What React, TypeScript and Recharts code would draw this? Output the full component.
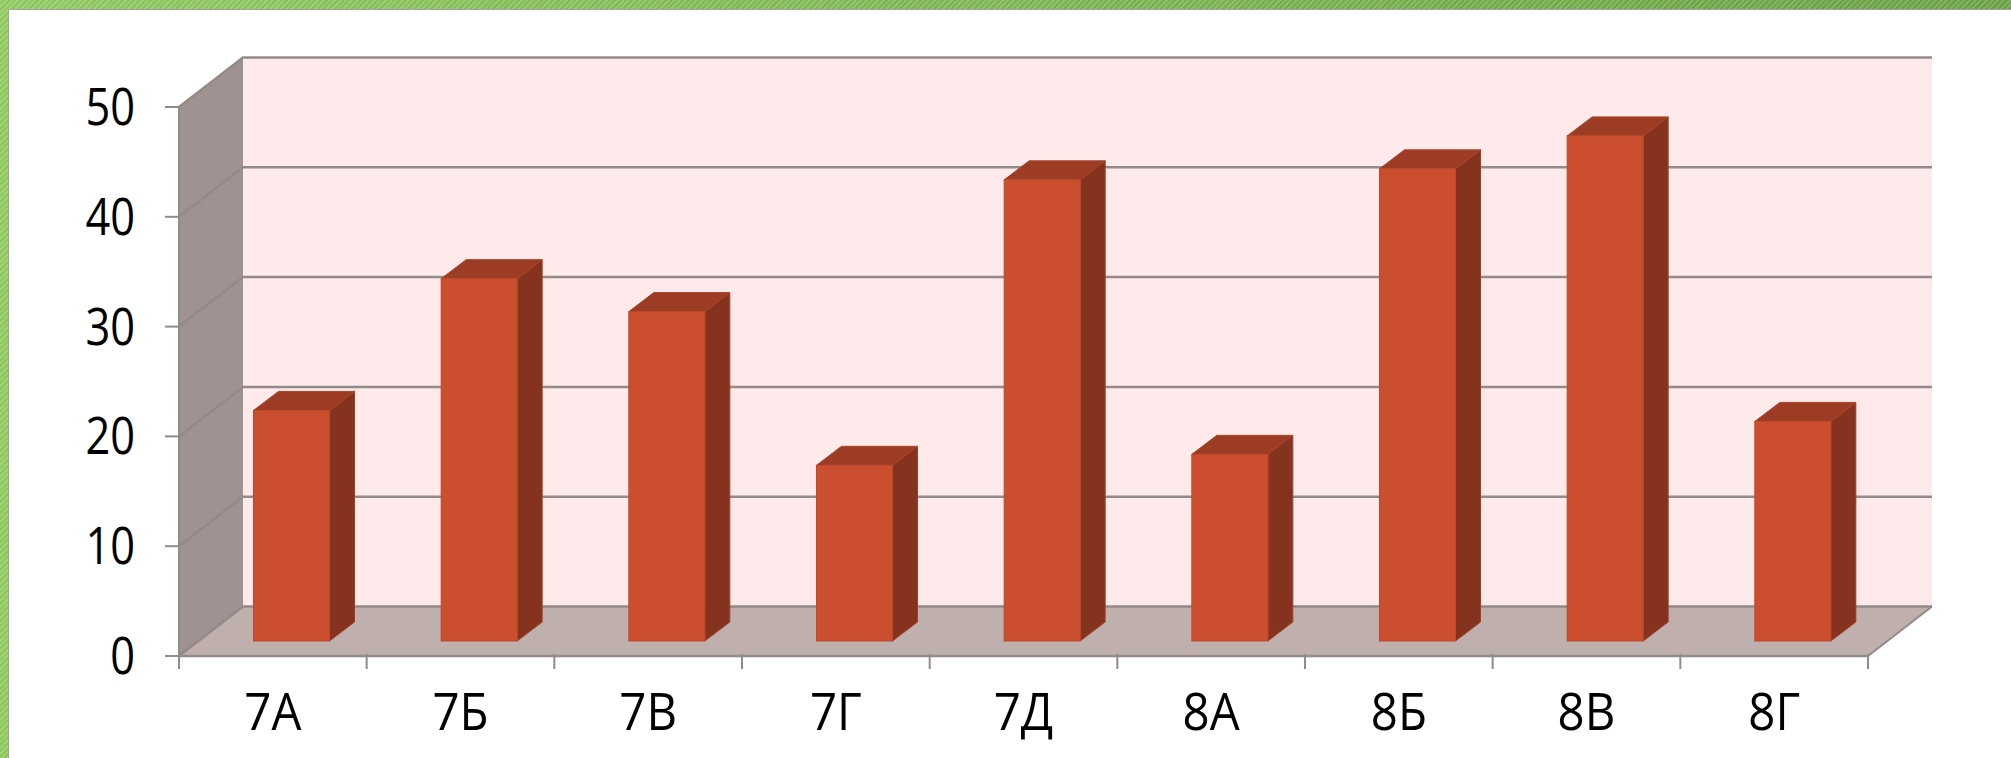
import { BarChart, Bar, XAxis, YAxis, ReferenceArea, ReferenceLine } from "recharts"

const classes = ["7А", "7Б", "7В", "7Г", "7Д", "8А", "8Б", "8В", "8Г"]
const counts = [21, 33, 30, 16, 42, 17, 43, 46, 20]
const yTicks = [0, 10, 20, 30, 40, 50]

const data = classes.map((name, i) => ({ name, count: counts[i] }))

const FONT = "'Open Sans', sans-serif"
const LINE = "#928b89"
const COUNT_SQUEEZE = 0.85
const CLASS_SQUEEZE = 0.93

// depth of the fake 3d box, and how far the bars sit inside it
const DEPTH_X = 64
const DEPTH_Y = -49.5
const BAR_SHIFT_X = 19.5
const BAR_SHIFT_Y = -15
const BAR_DEPTH_X = 25
const BAR_DEPTH_Y = -19

function Walls({ x, y, width, height }: any) {
  const r = x + width
  const b = y + height
  const bx = x + DEPTH_X
  const rx = r + DEPTH_X
  const by = b + DEPTH_Y
  const ty = y + DEPTH_Y
  return (
    <g>
      <polygon points={`${bx},${ty} ${rx},${ty} ${rx},${by} ${bx},${by}`} fill="#feeaea" />
      <polygon points={`${x},${y} ${bx},${ty} ${bx},${by} ${x},${b}`} fill="#9e9391" />
      <polygon points={`${x},${b} ${bx},${by} ${rx},${by} ${r},${b}`} fill="#bfb0ae" />
      <line x1={r} y1={b} x2={rx} y2={by} stroke={LINE} strokeWidth={2} />
    </g>
  )
}

function WallGridLine({ x1, y1, x2, y2 }: any) {
  return (
    <polyline
      points={`${x1},${y1} ${x1 + DEPTH_X},${y1 + DEPTH_Y} ${x2 + DEPTH_X},${y2 + DEPTH_Y}`}
      fill="none"
      stroke={LINE}
      strokeWidth={2.5}
    />
  )
}

function Bar3D({ x, y, width, height }: any) {
  const l = x + BAR_SHIFT_X
  const w = width - 1
  const r = l + w
  const t = y + BAR_SHIFT_Y
  const b = t + height
  const dx = BAR_DEPTH_X
  const dy = BAR_DEPTH_Y
  return (
    <g>
      <polygon points={`${r},${t} ${r + dx},${t + dy} ${r + dx},${b + dy} ${r},${b}`} fill="#85331f" stroke="#a03f26" strokeWidth={1} />
      <polygon points={`${l},${t} ${l + dx},${t + dy} ${r + dx},${t + dy} ${r},${t}`} fill="#9c3c24" stroke="#a8442a" strokeWidth={1} />
      <rect x={l} y={t} width={w} height={height} fill="#cb4f2e" stroke="#bb4a2c" strokeWidth={1} />
    </g>
  )
}

function ClassTick({ x, y, payload, index, visibleTicksCount }: any) {
  const half = payload.offset
  const top = y - 10
  const isLast = index === (visibleTicksCount ?? classes.length) - 1
  return (
    <g>
      <line x1={x - half} y1={top} x2={x - half} y2={top + 15} stroke={LINE} strokeWidth={2} />
      {isLast && <line x1={x + half} y1={top} x2={x + half} y2={top + 15} stroke={LINE} strokeWidth={2} />}
      <text transform={`translate(${x},${top + 76}) scale(${CLASS_SQUEEZE},1)`} textAnchor="middle" fontFamily={FONT} fontSize={51} fill="#000">
        {payload.value}
      </text>
    </g>
  )
}

function CountTick({ x, y, payload }: any) {
  return (
    <text transform={`translate(${x - 2},${y + 18}) scale(${COUNT_SQUEEZE},1)`} textAnchor="end" fontFamily={FONT} fontSize={51} fill="#000">
      {payload.value}
    </text>
  )
}

export default function App() {
  return (
    <div style={{ position: "absolute", left: 0, top: 0, width: 2011, height: 758, overflow: "hidden", background: "repeating-linear-gradient(135deg, rgba(255,255,255,0.12) 0 2px, rgba(0,0,0,0.04) 2px 4px), linear-gradient(90deg, #93cd63, #6da646)" }}>
      <div style={{ position: "absolute", left: 8, top: 9, width: 2003, height: 749, background: "#fff", boxSizing: "border-box", borderLeft: "1.5px solid #a3a3a3", borderTop: "1.5px solid #a3a3a3" }} />
      <div style={{ position: "absolute", left: 0, top: 0 }}>
        <BarChart width={2011} height={758} data={data} margin={{ top: 107, right: 143, bottom: 42, left: 79 }} barSize={77}>
          <ReferenceArea y1={0} y2={50} shape={<Walls />} zIndex={0} />
          {yTicks.map(v => (
            <ReferenceLine key={v} y={v} shape={<WallGridLine />} zIndex={1} />
          ))}
          <XAxis
            dataKey="name"
            height={60}
            interval={0}
            axisLine={{ stroke: LINE, strokeWidth: 2.5 }}
            tickLine={false}
            tick={<ClassTick />}
          />
          <YAxis
            width={100}
            domain={[0, 50]}
            ticks={yTicks}
            axisLine={{ stroke: LINE, strokeWidth: 2 }}
            tickLine={{ stroke: LINE, strokeWidth: 2 }}
            tickSize={14}
            tickMargin={28}
            tick={<CountTick />}
          />
          <Bar dataKey="count" isAnimationActive={false} shape={<Bar3D />} />
        </BarChart>
      </div>
    </div>
  )
}
